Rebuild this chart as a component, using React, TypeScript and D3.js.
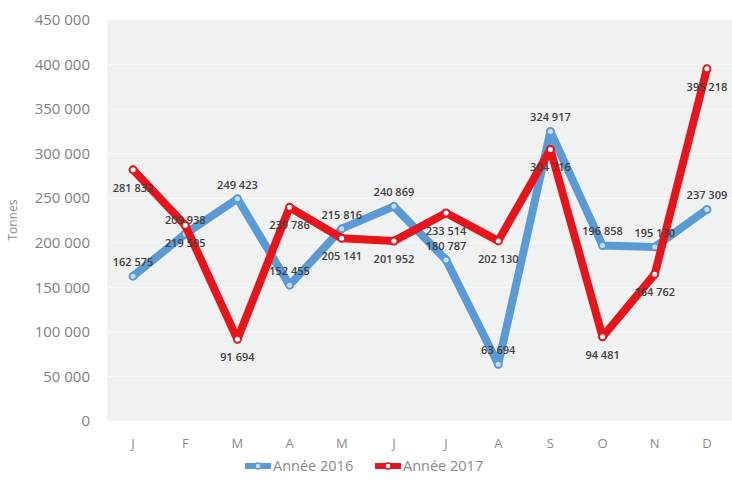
import React from "react";
import * as d3 from "d3";

const months = ["J", "F", "M", "A", "M", "J", "J", "A", "S", "O", "N", "D"];
const values2016 = [162575, 209938, 249423, 152455, 215816, 240869, 180787, 63694, 324917, 196858, 195130, 237309];
const values2017 = [281832, 219595, 91694, 239786, 205141, 201952, 233514, 202130, 304716, 94481, 164762, 395218];
const yTicks = [0, 50000, 100000, 150000, 200000, 250000, 300000, 350000, 400000, 450000];
const seriesNames = ["Année 2016", "Année 2017"];
const seriesColors = ["#5b9bd5", "#e8141c"];

const W = 732;
const H = 484;
const fmt = (v: number) => d3.format(",")(v).replace(/,/g, " ");

export default function App() {
  const idx = months.map((_, i) => i);
  const x = d3.scalePoint<number>().domain(idx).range([107, 733]).padding(0.5);
  const y = d3.scaleLinear().domain([0, 450000]).range([421, 20]);
  const line = d3
    .line<number>()
    .x((_, i) => x(i) as number)
    .y((d) => y(d));

  const series = [values2016, values2017];
  const font = "'Open Sans', 'Liberation Sans', sans-serif";

  return (
    <svg width={W} height={H} style={{ position: "absolute", left: 0, top: 0, background: "#fff" }}>
      <rect x={107} y={20} width={626} height={401} fill="#f0f1f1" />
      {yTicks.map((t) => (
        <g key={t}>
          {t > 0 && <line x1={107} x2={733} y1={y(t)} y2={y(t)} stroke="#fafafa" strokeWidth={1.2} />}
          <text x={90} y={y(t)} dy="0.35em" textAnchor="end" fontFamily={font} fontSize={15} fill="#7f7f7f">
            {fmt(t)}
          </text>
        </g>
      ))}
      {months.map((m, i) => (
        <text key={i} x={x(i) as number} y={448} textAnchor="middle" fontFamily={font} fontSize={13} fill="#8a8a8a">
          {m}
        </text>
      ))}
      <text
        transform="translate(17,220) rotate(-90)"
        textAnchor="middle"
        fontFamily={font}
        fontSize={12}
        fill="#8a8a8a"
      >
        Tonnes
      </text>
      {series.map((vals, s) => (
        <g key={s}>
          <path
            d={line(vals) || ""}
            fill="none"
            stroke={seriesColors[s]}
            strokeWidth={8}
            strokeLinejoin="round"
            strokeLinecap="round"
          />
          {vals.map((v, i) => (
            <circle
              key={i}
              cx={x(i) as number}
              cy={y(v)}
              r={3.5}
              fill={s === 0 ? "#c9dcf0" : "#ffffff"}
              stroke={seriesColors[s]}
              strokeWidth={2}
            />
          ))}
        </g>
      ))}
      {series.map((vals, s) => (
        <g key={"l" + s}>
          {vals.map((v, i) => (
            <text
              key={i}
              x={x(i) as number}
              y={y(v) + (s === 0 ? -14 : 18)}
              dy="0.35em"
              textAnchor="middle"
              fontFamily={font}
              fontSize={11}
              fontWeight={600}
              fill="#404040"
            >
              {fmt(v)}
            </text>
          ))}
        </g>
      ))}
      {seriesNames.map((n, s) => {
        const lx = s === 0 ? 245 : 375;
        return (
          <g key={n}>
            <line x1={lx} x2={lx + 26} y1={466} y2={466} stroke={seriesColors[s]} strokeWidth={6} />
            <circle cx={lx + 13} cy={466} r={3} fill={s === 0 ? "#c9dcf0" : "#fff"} stroke={seriesColors[s]} strokeWidth={1.5} />
            <text x={lx + 28} y={466} dy="0.35em" fontFamily={font} fontSize={14.5} fill="#8a8a8a">
              {n}
            </text>
          </g>
        );
      })}
    </svg>
  );
}
